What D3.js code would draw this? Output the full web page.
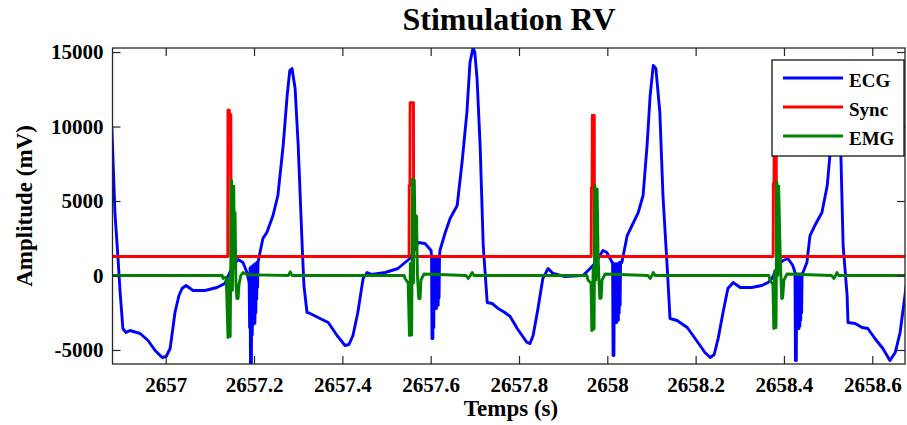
<!DOCTYPE html>
<html>
<head>
<meta charset="utf-8">
<script src="https://cdn.jsdelivr.net/npm/d3@7"></script>
<style>
  body { margin: 0; background: #fff; }
  text { font-family: "Liberation Serif", "Times New Roman", serif; font-weight: bold; fill: #000; }
</style>
</head>
<body>
<svg id="chart" width="907" height="425"></svg>
<script>
// ---------------- DATA ----------------
const chartTitle = "Stimulation RV";
const xLabel = "Temps (s)";
const yLabel = "Amplitude (mV)";
const seriesNames = ["ECG", "Sync", "EMG"];

const ecgT = [
  2656.878, 2656.885, 2656.892, 2656.8965, 2656.903, 2656.910, 2656.919, 2656.942, 2656.960, 2656.976, 2656.992, 2657.001, 2657.010, 2657.021, 2657.030, 2657.037, 2657.046, 2657.062, 2657.089, 2657.116, 2657.134, 2657.141, 2657.152, 2657.164, 2657.175, 2657.184,
  2657.189, 2657.190, 2657.191, 2657.192, 2657.193, 2657.194, 2657.195, 2657.196, 2657.197, 2657.198, 2657.199, 2657.200, 2657.201, 2657.202, 2657.203, 2657.204, 2657.205, 2657.206, 2657.207, 2657.208, 2657.209,
  2657.220, 2657.229, 2657.243, 2657.254, 2657.266, 2657.275, 2657.281, 2657.286, 2657.293, 2657.300, 2657.309, 2657.313, 2657.320, 2657.327, 2657.345, 2657.368, 2657.388, 2657.406, 2657.415, 2657.424, 2657.435, 2657.447, 2657.456, 2657.467, 2657.497, 2657.526, 2657.542, 2657.553, 2657.565, 2657.571, 2657.587, 2657.601,
  2657.602, 2657.603, 2657.604, 2657.605, 2657.606, 2657.607, 2657.608, 2657.609, 2657.610, 2657.611, 2657.612, 2657.613, 2657.614, 2657.615, 2657.616, 2657.617, 2657.618, 2657.619, 2657.620,
  2657.621, 2657.633, 2657.644, 2657.660, 2657.671, 2657.682, 2657.689, 2657.696, 2657.700, 2657.705, 2657.712, 2657.719, 2657.728, 2657.739, 2657.753, 2657.768, 2657.780, 2657.796, 2657.818, 2657.825, 2657.832, 2657.843, 2657.854, 2657.866, 2657.877, 2657.904, 2657.945, 2657.961, 2657.974, 2657.990, 2657.999, 2658.011,
  2658.012, 2658.013, 2658.014, 2658.015, 2658.016, 2658.017, 2658.018, 2658.019, 2658.020, 2658.021, 2658.022, 2658.023, 2658.024, 2658.025, 2658.026, 2658.027, 2658.028, 2658.029, 2658.030,
  2658.033, 2658.045, 2658.056, 2658.070, 2658.081, 2658.090, 2658.097, 2658.104, 2658.110, 2658.119, 2658.126, 2658.135, 2658.142, 2658.158, 2658.181, 2658.194, 2658.210, 2658.221, 2658.233, 2658.242, 2658.251, 2658.262, 2658.273, 2658.285, 2658.301, 2658.327, 2658.350, 2658.364, 2658.373, 2658.386, 2658.398, 2658.409, 2658.420,
  2658.425, 2658.426, 2658.427, 2658.428, 2658.429, 2658.430, 2658.431, 2658.432, 2658.433, 2658.434, 2658.435, 2658.436, 2658.437, 2658.438, 2658.439, 2658.440, 2658.441,
  2658.443, 2658.452, 2658.459, 2658.470, 2658.486, 2658.498, 2658.504, 2658.511, 2658.518, 2658.523, 2658.527, 2658.534, 2658.543, 2658.545, 2658.561, 2658.577, 2658.590, 2658.606, 2658.624, 2658.640, 2658.652, 2658.663, 2658.674, 2658.681];

const ecgV = [
  10000, 4228, 1141, -1007, -3557, -3825, -3691, -3892, -4362, -5033, -5503, -5436, -4899, -2483, -1342, -872, -671, -1007, -1007, -805, -537, -67, 671, 1074, 872, 201,
  -500, -3500, 500, -6200, 300, -6200, 600, -4000, 500, -3300, 700, -3000, 600, -3200, 800, -2500, 700, -1600, 900, -800, 872,
  2483, 2886, 4027, 5369, 8724, 12080, 13758, 13892, 12550, 8724, 2013, -671, -2483, -2550, -2819, -3154, -4027, -4698, -4631, -4027, -2483, -201, 201, 67, 201, 470, 872, 1141, 1812, 2215, 2148, 1678,
  1200, -4228, 1000, -4228, 1100, -3500, 1000, -2215, 1100, -2215, 1000, -2215, 1100, -2000, 1100, -2000, 1200, -1500, 1300,
  1678, 2886, 3825, 4698, 7583, 10939, 14294, 15300, 14966, 13221, 8724, 2013, -1812, -1879, -2215, -2483, -2752, -3557, -4496, -4564, -4027, -2215, -201, 470, 134, -67, 0, 470, 872, 1678, 1543, 872,
  872, -5369, 700, -5369, 800, -3154, 700, -3154, 800, -3154, 700, -3000, 800, -3000, 800, -2500, 900, -2000, 900,
  872, 2684, 3356, 4228, 5369, 8724, 12080, 14093, 13892, 10939, 5369, 872, -2886, -3020, -3490, -4027, -4698, -5167, -5503, -5302, -4228, -2483, -872, -470, -805, -805, -671, -470, -201, 671, 1007, 1141, 671,
  201, -5704, 0, -5704, 100, -3557, 0, -3557, 100, -3557, 0, -3400, 100, -3000, 0, -2500, 100,
  201, 872, 2684, 3356, 4228, 6040, 8053, 11744, 13892, 13758, 10402, 2013, -1342, -3154, -3221, -3490, -3557, -4228, -4899, -5704, -5167, -3825, -1342, 335];

const syncT = [2656.878,
  2657.1405, 2657.141, 2657.144, 2657.1445, 2657.1475, 2657.148,
  2657.551, 2657.5515, 2657.553, 2657.5535, 2657.561, 2657.5615,
  2657.9635, 2657.964, 2657.9655, 2657.966, 2657.9705, 2657.971,
  2658.3755, 2658.376, 2658.3775, 2658.378, 2658.3825, 2658.383,
  2658.681];
const syncV = [1280,
  1280, 11100, 11100, 10800, 10800, 1280,
  1280, 6040, 6040, 11600, 11600, 1280,
  1280, 5900, 5900, 10740, 10740, 1280,
  1280, 6170, 6170, 11200, 11200, 1280,
  1280];

const emgT = [2656.878,
  2657.128, 2657.130, 2657.137, 2657.141, 2657.143, 2657.146, 2657.149, 2657.151, 2657.154, 2657.156,
  2657.157, 2657.159, 2657.161, 2657.164, 2657.166, 2657.170, 2657.175, 2657.185, 2657.278, 2657.282, 2657.286,
  2657.540, 2657.542, 2657.549, 2657.552, 2657.554, 2657.557, 2657.559, 2657.561, 2657.563, 2657.565,
  2657.568, 2657.570, 2657.573, 2657.576, 2657.578, 2657.585, 2657.680, 2657.685, 2657.690, 2657.694, 2657.698,
  2657.954, 2657.956, 2657.963, 2657.965, 2657.968, 2657.970, 2657.972, 2657.974, 2657.977, 2657.979,
  2657.981, 2657.983, 2657.986, 2657.988, 2657.995, 2658.092, 2658.097, 2658.101, 2658.104, 2658.108,
  2658.366, 2658.368, 2658.375, 2658.377, 2658.379, 2658.382, 2658.384, 2658.386, 2658.388, 2658.391,
  2658.393, 2658.395, 2658.397, 2658.400, 2658.407, 2658.508, 2658.513, 2658.517, 2658.520, 2658.524,
  2658.681];
const emgV = [0,
  0, -200, -100, -4160, -300, -4100, 6380, -1000, 6000, 500,
  4230, -500, -1540, -1540, -600, 0, 200, 50, 0, 250, 0,
  0, -200, -500, -4030, 800, -4000, 6500, -500, 6400, 2000,
  4000, 0, -1540, -1540, -300, 100, 0, -200, 0, 200, 0,
  0, -300, -500, -3700, 500, -3600, 6040, -300, 5800, 1500,
  -200, -1540, -1500, -300, 100, 0, -200, 0, 200, 0,
  0, -300, -600, -3560, 300, -3500, 6240, 0, 6000, 2000,
  0, -1540, -1500, -300, 100, 0, -200, 0, 200, 0,
  0];

const xDomain = [2656.8795, 2658.6741];
const yDomain = [-5940, 15270];
const xTicks = [2657, 2657.2, 2657.4, 2657.6, 2657.8, 2658, 2658.2, 2658.4, 2658.6];
const xTickLabels = ["2657", "2657.2", "2657.4", "2657.6", "2657.8", "2658", "2658.2", "2658.4", "2658.6"];
const yTicks = [-5000, 0, 5000, 10000, 15000];
const yTickLabels = ["-5000", "0", "5000", "10000", "15000"];
const seriesColors = ["#0000ff", "#ff0000", "#008000"];

// ---------------- CHART ----------------
const svg = d3.select("#chart");
const L = 112.5, R = 905, T = 48, B = 364;
const x = d3.scaleLinear().domain(xDomain).range([L, R]);
const y = d3.scaleLinear().domain(yDomain).range([B, T]);
const axisColor = "#262626";

svg.append("defs").append("clipPath").attr("id", "plotclip")
  .append("rect").attr("x", L).attr("y", T).attr("width", R - L).attr("height", B - T);

const series = [
  { name: seriesNames[0], pts: d3.zip(ecgT, ecgV), color: seriesColors[0] },
  { name: seriesNames[1], pts: d3.zip(syncT, syncV), color: seriesColors[1] },
  { name: seriesNames[2], pts: d3.zip(emgT, emgV), color: seriesColors[2] }
];

const line = d3.line().x(d => x(d[0])).y(d => y(d[1]));
const plot = svg.append("g").attr("clip-path", "url(#plotclip)");
series.forEach(s => {
  plot.append("path").attr("d", line(s.pts))
    .attr("fill", "none").attr("stroke", s.color)
    .attr("stroke-width", 2.9).attr("stroke-linejoin", "round");
});

// axes (MATLAB-like, ticks inward on all four sides)
function styleAxis(g) {
  g.select(".domain").remove();
  g.selectAll(".tick line").attr("stroke", axisColor).attr("stroke-width", 1.2);
  g.selectAll(".tick text").style("font-size", "21px").attr("fill", "#000");
}
svg.append("g").attr("transform", `translate(0,${B})`)
  .call(d3.axisBottom(x).tickValues(xTicks).tickFormat((d, i) => xTickLabels[i])
    .tickSizeInner(-8).tickSizeOuter(0).tickPadding(13))
  .call(styleAxis);
svg.append("g").attr("transform", `translate(0,${T})`)
  .call(d3.axisTop(x).tickValues(xTicks).tickFormat("").tickSizeInner(-8).tickSizeOuter(0))
  .call(styleAxis);
svg.append("g").attr("transform", `translate(${L},0)`)
  .call(d3.axisLeft(y).tickValues(yTicks).tickFormat((d, i) => yTickLabels[i])
    .tickSizeInner(-8).tickSizeOuter(0).tickPadding(9))
  .call(styleAxis);
svg.append("g").attr("transform", `translate(${R},0)`)
  .call(d3.axisRight(y).tickValues(yTicks).tickFormat("").tickSizeInner(-8).tickSizeOuter(0))
  .call(styleAxis);

svg.append("rect").attr("x", L).attr("y", T).attr("width", R - L).attr("height", B - T)
  .attr("fill", "none").attr("stroke", axisColor).attr("stroke-width", 1.3);

// titles
svg.append("text").attr("x", 509).attr("y", 30).attr("text-anchor", "middle")
  .style("font-size", "32px").text(chartTitle);
svg.append("text").attr("x", 511).attr("y", 416).attr("text-anchor", "middle")
  .style("font-size", "23px").text(xLabel);
svg.append("text").attr("transform", `translate(32,${(T + B) / 2}) rotate(-90)`)
  .attr("text-anchor", "middle").style("font-size", "23px").text(yLabel);

// legend
const lg = svg.append("g");
lg.append("rect").attr("x", 772).attr("y", 60).attr("width", 132).attr("height", 96)
  .attr("fill", "#fff").attr("stroke", "#000").attr("stroke-width", 1.2);
series.forEach((s, i) => {
  const ly = 78 + i * 29;
  lg.append("line").attr("x1", 783).attr("x2", 843).attr("y1", ly).attr("y2", ly)
    .attr("stroke", s.color).attr("stroke-width", 2.9);
  lg.append("text").attr("x", 849).attr("y", ly + 9).style("font-size", "19px").text(s.name);
});
</script>
</body>
</html>
